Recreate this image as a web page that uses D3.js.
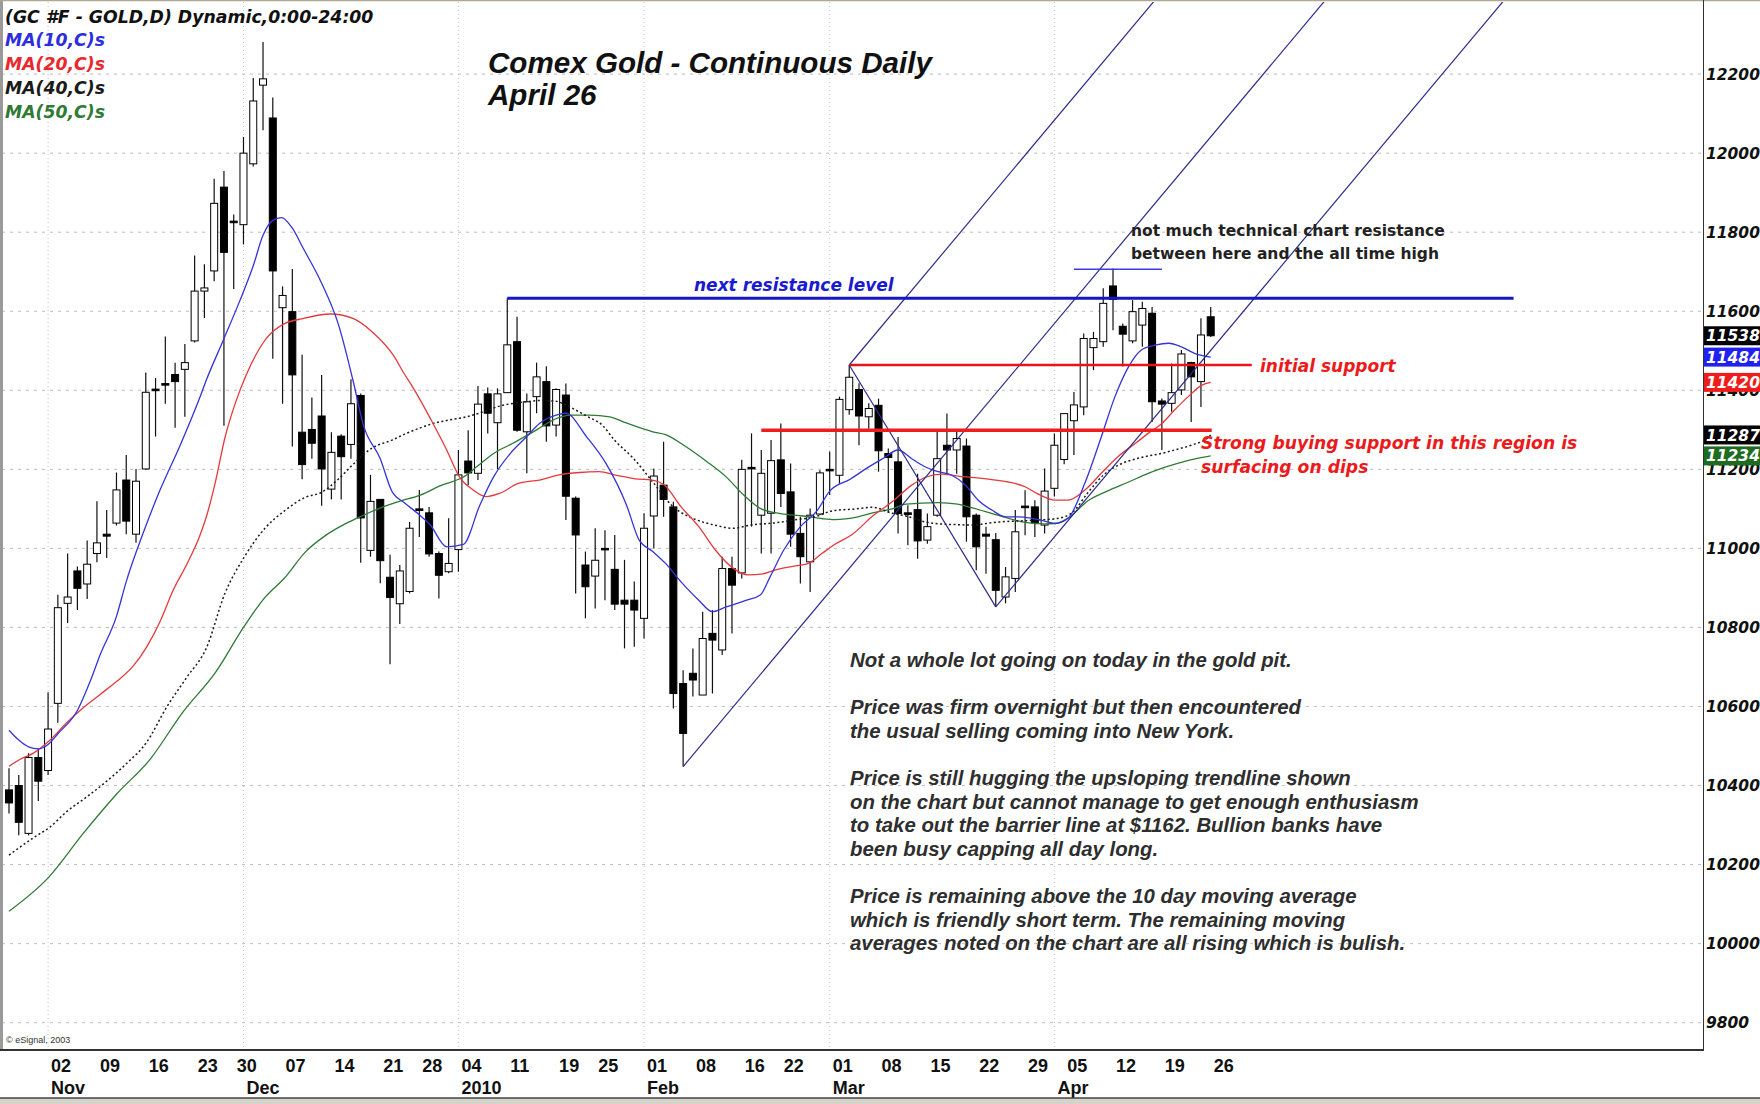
<!DOCTYPE html>
<html>
<head>
<meta charset="utf-8">
<script src="https://cdn.jsdelivr.net/npm/d3@7/dist/d3.min.js"></script>
<style>
  body { margin: 0; background: #fff; }
  svg { display: block; }
</style>
</head>
<body>
<svg id="chart" width="1760" height="1104"></svg>
<script>
// trading calendar (Comex gold, daily)
const FIRST_DAY = "2009-10-27";
const LAST_DAY = "2010-04-26";
const HOLIDAYS = ["2009-11-26", "2009-12-25", "2010-01-01", "2010-01-18", "2010-02-15", "2010-04-02"];

// prices in chart units (x10 dollars)
const OPEN = [10389,10400,10279,10471,10438,10608,10861,10943,10910,10987,
  11036,11064,11173,11036,11201,11403,11417,11440,11453,11525,
  11651,11702,11914,11828,11819,11973,12172,12089,11609,11599,
  11294,11301,11335,11150,11284,11263,11387,10995,11124,10927,
  10860,10891,11100,11090,10987,10941,10997,11221,11190,11391,
  11318,11394,11523,11295,11384,11422,11312,11388,11127,10958,
  10930,11000,10947,10869,10869,10823,11082,11160,11105,10658,
  10684,10629,10785,10743,10949,10938,11205,11084,11089,11224,
  11143,11038,10966,11087,11200,11185,11351,11402,11333,11362,
  11240,11219,11090,11098,11021,11084,11261,11249,11259,11084,
  11036,11022,10877,10924,11107,11105,11059,11152,11225,11323,
  11358,11508,11523,11664,11562,11525,11565,11595,11373,11367,
  11401,11470,11422,11586];
const HIGH = [10444,10427,10482,10493,10636,10883,10987,10954,11020,11119,
  11097,11192,11236,11201,11445,11431,11536,11470,11517,11741,
  11719,11935,11955,11845,12041,12190,12281,12141,11663,11707,
  11490,11382,11439,11294,11289,11428,11392,11186,11124,10984,
  10958,11067,11148,11105,10992,11076,11249,11299,11411,11407,
  11405,11633,11586,11392,11470,11461,11405,11417,11131,10992,
  11051,11046,11034,10971,10916,11089,11202,11270,11118,10692,
  10747,10840,10844,10979,10979,11224,11291,11249,11274,11316,
  11215,11080,11101,11198,11245,11384,11464,11418,11367,11379,
  11253,11282,11109,11189,11088,11295,11341,11295,11278,11088,
  11055,11039,10953,11097,11147,11122,11202,11291,11341,11396,
  11544,11548,11658,11708,11569,11628,11624,11611,11379,11468,
  11502,11472,11582,11611];
const LOW = [10329,10274,10274,10361,10427,10559,10811,10844,10872,10965,
  10976,11058,11036,11014,11199,11283,11366,11305,11333,11521,
  11583,11676,11310,11656,11769,11966,12058,11480,11366,11258,
  11175,11227,11108,11124,11124,11227,10964,10979,10912,10707,
  10809,10886,11029,10979,10873,10937,10941,11160,11173,11291,
  11200,11394,11295,11190,11342,11270,11283,11072,10886,10823,
  10848,10869,10844,10747,10751,10772,11000,11080,10595,10448,
  10625,10629,10633,10730,10785,10924,11055,10987,10987,11105,
  11004,10911,10890,11084,11135,11164,11338,11261,11303,11194,
  11090,11038,11008,10974,11012,11080,11185,11189,11017,10945,
  10936,10852,10861,10890,11033,11029,11038,11131,11213,11236,
  11337,11451,11510,11552,11460,11519,11510,11320,11249,11346,
  11388,11320,11358,11535];
const CLOSE = [10356,10307,10471,10411,10543,10850,10877,10899,10960,11014,
  11031,11148,11069,11170,11395,11399,11413,11422,11470,11651,
  11659,11873,11749,11824,12000,12132,12188,11702,11640,11439,
  11212,11266,11201,11243,11232,11366,11077,11119,10969,10876,
  10943,11051,11096,10986,10932,10962,11186,11191,11365,11342,
  11391,11515,11299,11371,11434,11310,11402,11132,11034,10903,
  10970,10997,10859,10859,10844,11051,11183,11124,10633,10532,
  10667,10772,10768,10949,10907,11200,11202,11190,11222,11139,
  11036,10979,11084,11191,11197,11377,11433,11335,11354,11247,
  11230,11088,11086,11019,11055,11227,11249,11278,11080,11004,
  11031,10894,10928,11042,11103,11065,11145,11261,11341,11363,
  11531,11531,11620,11630,11542,11599,11607,11371,11365,11394,
  11492,11434,11540,11538];

// moving averages: [bar index, value]
const MA10 = [[0,10540],[1,10515],[2,10498],[3,10493],[4,10504],[5,10531],[7,10590],[8.3,10663],[9.3,10729],
  [11,10828],[12,10916],[13.75,11040],[15.5,11150],[17.5,11260],[19.5,11380],[20.2,11426],[21.9,11525],
  [23.6,11625],[25,11715],[26,11792],[27,11830],[27.9,11837],[29,11810],[30.1,11760],[32,11671],[33.7,11568],
  [35.2,11426],[36.3,11310],[38,11227],[39.2,11144],[40.5,11115],[42,11085],[43.1,11060],[44.8,11004],
  [46.5,11010],[48.2,11110],[49.6,11181],[51.3,11240],[53,11283],[54.3,11316],[56,11337],[57,11342],
  [59.1,11283],[61.1,11215],[63.2,11110],[64.5,11021],[65.9,10992],[67.2,10962],[68.9,10912],[70.6,10869],
  [72,10840],[73.4,10852],[75.5,10869],[76.9,10882],[77.9,10928],[79.3,10996],[81,11055],[82.7,11095],
  [84,11145],[86.1,11175],[87.8,11203],[89.5,11228],[91,11249],[92.4,11227],[93.8,11206],[95.1,11194],
  [96.5,11185],[97.9,11160],[99.2,11122],[100.6,11097],[102,11080],[103.3,11080],[104.7,11076],
  [105.7,11071],[107.1,11063],[108.4,11076],[110.1,11164],[111.8,11282],[113.2,11384],[114.6,11460],
  [115.9,11502],[117.3,11514],[118.7,11519],[120,11510],[121.4,11493],[123,11484]];
const MA20 = [[0,10449],[1.1,10466],[2.5,10482],[4.2,10515],[5.9,10559],[7.6,10597],[9.3,10630],[11,10663],
  [12.7,10702],[14.1,10751],[15.5,10817],[16.8,10894],[18.2,10960],[19.5,11030],[20.2,11080],[21.1,11165],
  [22.1,11280],[23.2,11370],[24.3,11440],[26.3,11530],[28.3,11570],[29.8,11580],[32.9,11593],[35.2,11582],
  [37.3,11545],[39.3,11490],[40.5,11440],[41.4,11405],[43.4,11316],[44.8,11249],[46.1,11181],[47.5,11148],
  [48.8,11131],[50.2,11139],[52.2,11165],[54.3,11173],[56.3,11186],[58.4,11192],[60.4,11194],[62.2,11185],
  [64.1,11176],[65.8,11173],[67.1,11160],[68.8,11105],[70.6,11055],[72.3,10996],[74,10952],[75.7,10933],
  [77,10935],[78.4,10945],[80.1,10954],[81.8,10962],[83.2,10987],[84.5,11010],[86.3,11035],[88.4,11082],
  [90.4,11118],[92.4,11160],[93.8,11180],[95.5,11188],[97.1,11183],[98.8,11179],[100.6,11174],[102.3,11168],
  [104,11156],[105.3,11138],[107.1,11122],[108.4,11122],[110.1,11147],[111.8,11190],[113.5,11232],
  [115.3,11266],[116.6,11291],[118,11316],[119.3,11350],[120.7,11384],[122.1,11413],[123,11420]];
const MA40 = [[0,10224],[2.5,10268],[4.2,10295],[5.9,10334],[8,10372],[10,10411],[12,10455],[14.1,10510],
  [16.1,10597],[18.2,10674],[20.2,10748],[22.1,10886],[24.1,10979],[26.2,11051],[28.2,11095],[30.3,11129],
  [32,11142],[33.7,11175],[35.4,11217],[37.1,11253],[39.2,11274],[40.5,11289],[42.1,11305],[43.4,11316],
  [45.1,11325],[46.8,11333],[48.5,11345],[50.2,11360],[52.6,11370],[54.3,11374],[56,11372],[57.2,11360],
  [59.1,11335],[60.8,11310],[61.9,11276],[63.9,11228],[65.9,11168],[68,11105],[70,11076],[72.4,11058],
  [74.1,11051],[76.1,11060],[78.2,11064],[80.4,11072],[82.5,11080],[84.3,11095],[86.7,11100],[88.4,11104],
  [90.4,11089],[91.8,11082],[93.8,11067],[95.2,11062],[97.1,11060],[98.6,11059],[100.6,11065],[102,11068],
  [104,11070],[105.4,11072],[107.1,11075],[108.8,11090],[110.4,11140],[112,11185],[113.5,11210],
  [115.9,11230],[117.9,11240],[119.3,11249],[121,11261],[122.7,11280],[123,11287]];
const MA50 = [[0,10082],[4.1,10169],[7.6,10279],[11,10378],[14.4,10465],[17.8,10586],[21.1,10685],[24.1,10804],
  [26.2,10876],[28.2,10925],[30.3,10990],[32.3,11031],[34.4,11062],[36.1,11082],[38.1,11103],[40.1,11120],
  [42.1,11135],[44.1,11158],[46.8,11185],[47.9,11207],[49.6,11240],[51.9,11270],[54,11300],[56.2,11330],
  [57.4,11337],[59.4,11337],[61.5,11333],[63.1,11318],[65.9,11295],[67.2,11288],[69.3,11257],[71.4,11220],
  [73.4,11181],[75.2,11135],[77,11100],[79,11088],[81.3,11082],[83.3,11075],[84.5,11073],[86.9,11080],
  [88.4,11090],[90.4,11100],[91.8,11112],[95.1,11116],[97.1,11112],[98.8,11101],[101.2,11084],[104,11066],
  [106,11062],[107.1,11063],[108.6,11080],[110.4,11120],[112.4,11145],[114.6,11168],[116.6,11190],
  [117.9,11202],[119.6,11215],[121.3,11226],[123,11234]];

const Y_TICKS = [9800, 10000, 10200, 10400, 10600, 10800, 11000, 11200, 11400, 11600, 11800, 12000, 12200];
const LAST_VALUES = [11234, 11287, 11420, 11484, 11538];   // MA50, MA40, MA20, MA10, last close
const LEGEND = ["(GC #F - GOLD,D) Dynamic,0:00-24:00", "MA(10,C)s", "MA(20,C)s", "MA(40,C)s", "MA(50,C)s"];

// drawn levels: bar index range and price
const LEVELS = [
  {key: "resistance", from: 51, to: 154, value: 11633},
  {key: "initial", from: 86.05, to: 127.2, value: 11464},
  {key: "strong", from: 77, to: 123.1, value: 11299},
  {key: "ath", from: 109, to: 118, value: 11706}
];
// pitchfork style trendlines: anchors [bar index, price], slope in price per bar
const FORK_SLOPE = 29.5;
const FORK_ANCHORS = [[69, 10448], [86, 11464], [101, 10852]];
const V_LINE = [[86, 11464], [101, 10852]];

const NOTES = [
  "Not a whole lot going on today in the gold pit.", "",
  "Price was firm overnight but then encountered",
  "the usual selling coming into New York.", "",
  "Price is still hugging the upsloping trendline shown",
  "on the chart but cannot manage to get enough enthusiasm",
  "to take out the barrier line at $1162. Bullion banks have",
  "been busy capping all day long.", "",
  "Price is remaining above the 10 day moving average",
  "which is friendly short term. The remaining moving",
  "averages noted on the chart are all rising which is bulish."
];

// ---------------------------------------------------------------
const svg = d3.select("#chart");
const PLOT = {left: 2, right: 1703, top: 2, bottom: 1050};
const ANNO_FONT = "'DejaVu Sans', Verdana, sans-serif";
const MA_COLORS = {ma10: "#3434d8", ma20: "#e43a3e", ma40: "#1a1a1a", ma50: "#2f7a35"};

const parse = d3.timeParse("%Y-%m-%d");
const fmt = d3.timeFormat("%Y-%m-%d");
const holidaySet = new Set(HOLIDAYS);
const DATES = d3.timeDay.range(parse(FIRST_DAY), d3.timeDay.offset(parse(LAST_DAY), 1))
  .filter(d => d.getDay() !== 0 && d.getDay() !== 6 && !holidaySet.has(fmt(d)));

const bars = DATES.map((d, i) => ({i: i, date: d, o: OPEN[i], h: HIGH[i], l: LOW[i], c: CLOSE[i]}));

const x = d3.scaleLinear().domain([0, 123]).range([9, 9 + 123 * 9.77]);
const y = d3.scaleLinear().domain([9800, 12200]).range([1022.7, 74.1]);

svg.append("rect").attr("width", 1760).attr("height", 1104).attr("fill", "#fff");

svg.append("defs").append("clipPath").attr("id", "plotclip")
  .append("rect")
  .attr("x", PLOT.left).attr("y", PLOT.top)
  .attr("width", PLOT.right - PLOT.left).attr("height", PLOT.bottom - PLOT.top);

// grid
const monthStarts = bars.filter(b => b.i > 0 && b.date.getMonth() !== bars[b.i - 1].date.getMonth()).map(b => b.i);
const weekStarts = bars.filter(b => b.i > 0 && +d3.timeMonday.floor(b.date) !== +d3.timeMonday.floor(bars[b.i - 1].date)).map(b => b.i);

const grid = svg.append("g");
grid.selectAll("line.h")
  .data(Y_TICKS)
  .enter().append("line")
  .attr("x1", PLOT.left).attr("x2", PLOT.right)
  .attr("y1", d => y(d)).attr("y2", d => y(d))
  .attr("stroke", "#bdbdbd").attr("stroke-width", 1).attr("stroke-dasharray", "3,5");
grid.selectAll("line.v")
  .data(monthStarts)
  .enter().append("line")
  .attr("x1", d => x(d)).attr("x2", d => x(d))
  .attr("y1", PLOT.top).attr("y2", PLOT.bottom)
  .attr("stroke", "#c4c4c4").attr("stroke-width", 1).attr("stroke-dasharray", "1,3");

const plot = svg.append("g").attr("clip-path", "url(#plotclip)");

// candles
plot.append("g").selectAll("line")
  .data(bars)
  .enter().append("line")
  .attr("x1", d => x(d.i)).attr("x2", d => x(d.i))
  .attr("y1", d => y(d.h)).attr("y2", d => y(d.l))
  .attr("stroke", "#111").attr("stroke-width", 1.2);

plot.append("g").selectAll("rect")
  .data(bars)
  .enter().append("rect")
  .attr("x", d => x(d.i) - 3.5)
  .attr("width", 7)
  .attr("y", d => y(Math.max(d.o, d.c)))
  .attr("height", d => Math.max(1.5, Math.abs(y(d.o) - y(d.c))))
  .attr("fill", d => d.c >= d.o ? "#fff" : "#000")
  .attr("stroke", "#000").attr("stroke-width", 1);

// moving averages
const maLine = d3.line().x(d => x(d[0])).y(d => y(d[1])).curve(d3.curveMonotoneX);
plot.append("path").datum(MA50).attr("d", maLine)
  .attr("fill", "none").attr("stroke", MA_COLORS.ma50).attr("stroke-width", 1.3);
plot.append("path").datum(MA40).attr("d", maLine)
  .attr("fill", "none").attr("stroke", MA_COLORS.ma40).attr("stroke-width", 1.5).attr("stroke-dasharray", "2,2.5");
plot.append("path").datum(MA20).attr("d", maLine)
  .attr("fill", "none").attr("stroke", MA_COLORS.ma20).attr("stroke-width", 1.3);
plot.append("path").datum(MA10).attr("d", maLine)
  .attr("fill", "none").attr("stroke", MA_COLORS.ma10).attr("stroke-width", 1.3);

// trendlines
const trend = plot.append("g").attr("stroke", "#2c2c8a").attr("stroke-width", 1.2).attr("fill", "none");
trend.selectAll("line.fork")
  .data(FORK_ANCHORS)
  .enter().append("line")
  .attr("x1", d => x(d[0])).attr("y1", d => y(d[1]))
  .attr("x2", d => x(d[0] + 80)).attr("y2", d => y(d[1] + 80 * FORK_SLOPE));
trend.append("line")
  .attr("x1", x(V_LINE[0][0])).attr("y1", y(V_LINE[0][1]))
  .attr("x2", x(V_LINE[1][0])).attr("y2", y(V_LINE[1][1]));

// horizontal levels
const levelStyle = {
  resistance: {stroke: "#1616c4", width: 3},
  initial: {stroke: "#e8141c", width: 2.5},
  strong: {stroke: "#ee1c1c", width: 3.5},
  ath: {stroke: "#3a3ae8", width: 1.5}
};
plot.append("g").selectAll("line")
  .data(LEVELS)
  .enter().append("line")
  .attr("x1", d => x(d.from)).attr("x2", d => x(d.to))
  .attr("y1", d => y(d.value)).attr("y2", d => y(d.value))
  .attr("stroke", d => levelStyle[d.key].stroke)
  .attr("stroke-width", d => levelStyle[d.key].width);

// frame
svg.append("line").attr("x1", 1.5).attr("x2", 1.5).attr("y1", 0).attr("y2", PLOT.bottom)
  .attr("stroke", "#9a9a9a").attr("stroke-width", 3);
svg.append("line").attr("x1", 0).attr("x2", 1760).attr("y1", 0.5).attr("y2", 0.5)
  .attr("stroke", "#b0a890").attr("stroke-width", 1.5);
svg.append("line").attr("x1", PLOT.right + 0.5).attr("x2", PLOT.right + 0.5).attr("y1", 0).attr("y2", PLOT.bottom)
  .attr("stroke", "#333").attr("stroke-width", 1);
svg.append("line").attr("x1", 0).attr("x2", PLOT.right + 1).attr("y1", PLOT.bottom).attr("y2", PLOT.bottom)
  .attr("stroke", "#333").attr("stroke-width", 2);

// y axis
const yAxis = svg.append("g")
  .attr("transform", `translate(${PLOT.right},0)`)
  .call(d3.axisRight(y).tickValues(Y_TICKS).tickSize(0).tickPadding(3).tickFormat(d3.format("d")));
yAxis.select(".domain").remove();
yAxis.attr("font-family", ANNO_FONT).attr("font-size", 15.5)
  .attr("font-style", "italic").attr("font-weight", "bold");
yAxis.selectAll("text").attr("fill", "#111");

// last value boxes
const boxColors = ["#1f6b1f", "#000", "#f01c1c", "#2020f0", "#000"];
const boxes = svg.append("g");
boxes.selectAll("rect")
  .data(LAST_VALUES)
  .enter().append("rect")
  .attr("x", PLOT.right + 1).attr("width", 60)
  .attr("y", d => y(d) - 9.5).attr("height", 19)
  .attr("fill", (d, i) => boxColors[i]);
boxes.selectAll("text")
  .data(LAST_VALUES)
  .enter().append("text")
  .attr("x", PLOT.right + 3).attr("y", d => y(d)).attr("dy", "0.36em")
  .attr("font-family", ANNO_FONT).attr("font-size", 15.5)
  .attr("font-style", "italic").attr("font-weight", "bold")
  .attr("fill", "#fff")
  .text(d => d);

// x axis: week starts and month names
const dayFmt = d3.timeFormat("%d");
const monFmt = d => d.getMonth() === 0 ? d3.timeFormat("%Y")(d) : d3.timeFormat("%b")(d);
const xDays = svg.append("g").attr("transform", `translate(0,${PLOT.bottom})`)
  .call(d3.axisBottom(x).tickValues(weekStarts).tickSize(0).tickFormat(i => dayFmt(DATES[i])));
const xMonths = svg.append("g").attr("transform", `translate(0,${PLOT.bottom})`)
  .call(d3.axisBottom(x).tickValues(monthStarts).tickSize(0).tickFormat(i => monFmt(DATES[i])));
[xDays, xMonths].forEach((g, k) => {
  g.select(".domain").remove();
  g.attr("font-family", "'Liberation Sans', Arial, sans-serif").attr("font-size", 18).attr("font-weight", "bold");
  g.selectAll("text")
    .attr("text-anchor", "start")
    .attr("x", 2.5)
    .attr("dy", null)
    .attr("y", k === 0 ? 22 : 44)
    .attr("fill", "#111");
});

// bottom status strip
svg.append("rect").attr("x", 0).attr("y", 1098).attr("width", 1760).attr("height", 6).attr("fill", "#d6d3cb");
svg.append("line").attr("x1", 0).attr("x2", 1760).attr("y1", 1098).attr("y2", 1098)
  .attr("stroke", "#444").attr("stroke-width", 1.5);
svg.append("text").attr("x", 1462).attr("y", 1113)
  .attr("font-family", "'Liberation Sans', Arial, sans-serif").attr("font-size", 13).attr("fill", "#222")
  .text("Published by eSignal (www.esignal.com)");
svg.append("text").attr("x", 6).attr("y", 1043)
  .attr("font-family", "'Liberation Sans', Arial, sans-serif").attr("font-size", 9).attr("fill", "#333")
  .text("\u00a9 eSignal, 2003");

// legend
const legendColors = ["#111", "#2d2de0", "#e8282c", "#1a1a1a", "#2f7a35"];
svg.append("g").selectAll("text")
  .data(LEGEND)
  .enter().append("text")
  .attr("x", 5)
  .attr("y", (d, i) => 22.5 + i * 23.9)
  .attr("font-family", ANNO_FONT).attr("font-size", 17.3)
  .attr("font-style", "italic").attr("font-weight", "bold")
  .attr("fill", (d, i) => legendColors[i])
  .text(d => d);

// title
const title = svg.append("g")
  .attr("font-family", "'Liberation Sans', Arial, sans-serif")
  .attr("font-size", 29.6).attr("font-style", "italic").attr("font-weight", "bold").attr("fill", "#111");
title.append("text").attr("x", 488).attr("y", 73).text("Comex Gold - Continuous Daily");
title.append("text").attr("x", 488).attr("y", 105).text("April 26");

// annotations
const anno = svg.append("g").attr("font-family", ANNO_FONT).attr("font-weight", "bold");
anno.append("text").attr("x", 694).attr("y", 291).attr("font-size", 17).attr("font-style", "italic")
  .attr("fill", "#1a1ad0").text("next resistance level");
anno.append("text").attr("x", 1260).attr("y", 372).attr("font-size", 17).attr("font-style", "italic")
  .attr("fill", "#ec1a1a").text("initial support");
anno.append("text").attr("x", 1201).attr("y", 449).attr("font-size", 17.2).attr("font-style", "italic")
  .attr("fill", "#ec1a1a").text("Strong buying support in this region is");
anno.append("text").attr("x", 1201).attr("y", 473).attr("font-size", 17.2).attr("font-style", "italic")
  .attr("fill", "#ec1a1a").text("surfacing on dips");
anno.append("text").attr("x", 1131).attr("y", 236).attr("font-size", 15.5).attr("fill", "#222")
  .text("not much technical chart resistance");
anno.append("text").attr("x", 1131).attr("y", 259).attr("font-size", 15.5).attr("fill", "#222")
  .text("between here and the all time high");

// commentary
svg.append("g")
  .attr("font-family", "'Liberation Sans', Arial, sans-serif")
  .attr("font-size", 20.4).attr("font-style", "italic").attr("font-weight", "bold").attr("fill", "#2e2e2e")
  .selectAll("text")
  .data(NOTES)
  .enter().append("text")
  .attr("x", 850)
  .attr("y", (d, i) => 667 + i * 23.6)
  .text(d => d);
</script>
</body>
</html>
